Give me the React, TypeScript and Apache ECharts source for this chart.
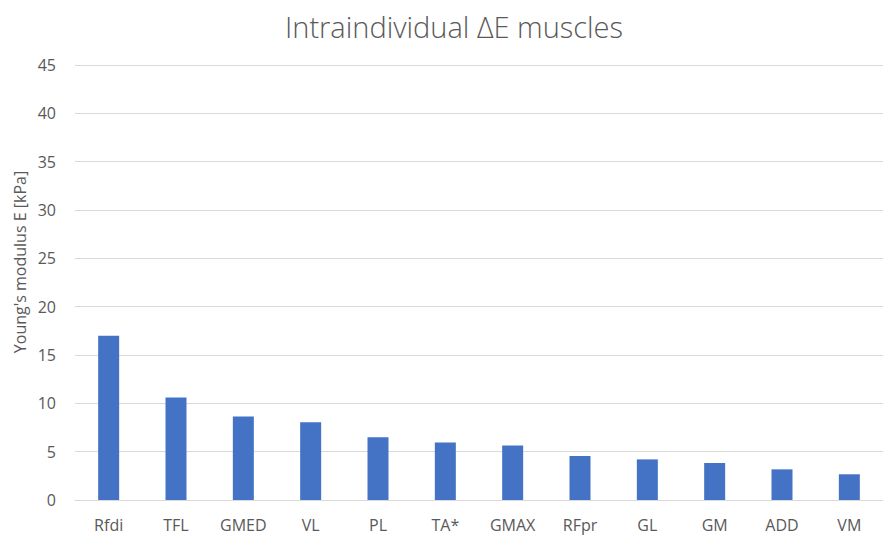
import React, { useEffect, useRef } from "react";
import * as echarts from "echarts";

const categories = ["Rfdi", "TFL", "GMED", "VL", "PL", "TA*", "GMAX", "RFpr", "GL", "GM", "ADD", "VM"];
const values = [17.0, 10.6, 8.65, 8.05, 6.5, 5.95, 5.65, 4.55, 4.2, 3.83, 3.17, 2.66];
const titleText = "Intraindividual ΔE muscles";
const yAxisName = "Young's modulus E [kPa]";

export default function App() {
  const ref = useRef<HTMLDivElement>(null);
  useEffect(() => {
    if (!ref.current) return;
    const chart = echarts.init(ref.current, undefined, { renderer: "svg" });
    const font = "'Open Sans', 'Noto Sans', sans-serif";
    chart.setOption({
      animation: false,
      backgroundColor: "#ffffff",
      title: {
        text: titleText,
        left: 449,
        top: 7,
        textAlign: "center",
        textStyle: { fontFamily: font, fontSize: 29, fontWeight: 300, color: "#595959" },
      },
      grid: { left: 75, right: -11, top: 65, bottom: 36, containLabel: false },
      xAxis: {
        type: "category",
        data: categories,
        axisLine: { show: true, lineStyle: { color: "#d9d9d9", width: 1 } },
        axisTick: { show: false },
        axisLabel: { color: "#595959", fontFamily: font, fontSize: 16, margin: 17 },
      },
      yAxis: {
        type: "value",
        min: 0,
        max: 45,
        interval: 5,
        axisLine: { show: false },
        axisTick: { show: false },
        splitLine: { lineStyle: { color: "#d9d9d9", width: 1 } },
        axisLabel: { color: "#595959", fontFamily: font, fontSize: 16, margin: 19 },
      },
      graphic: [
        {
          type: "text",
          x: 20,
          y: 262,
          rotation: Math.PI / 2,
          style: {
            text: yAxisName,
            fill: "#595959",
            font: `16px ${font}`,
            textAlign: "center",
            textVerticalAlign: "middle",
          },
        },
      ],
      series: [
        {
          type: "bar",
          data: values,
          barWidth: 21,
          itemStyle: { color: "#4472c4" },
        },
      ],
    });
    return () => chart.dispose();
  }, []);
  return <div ref={ref} style={{ position: "fixed", left: 0, top: 0, width: 883, height: 536 }} />;
}
